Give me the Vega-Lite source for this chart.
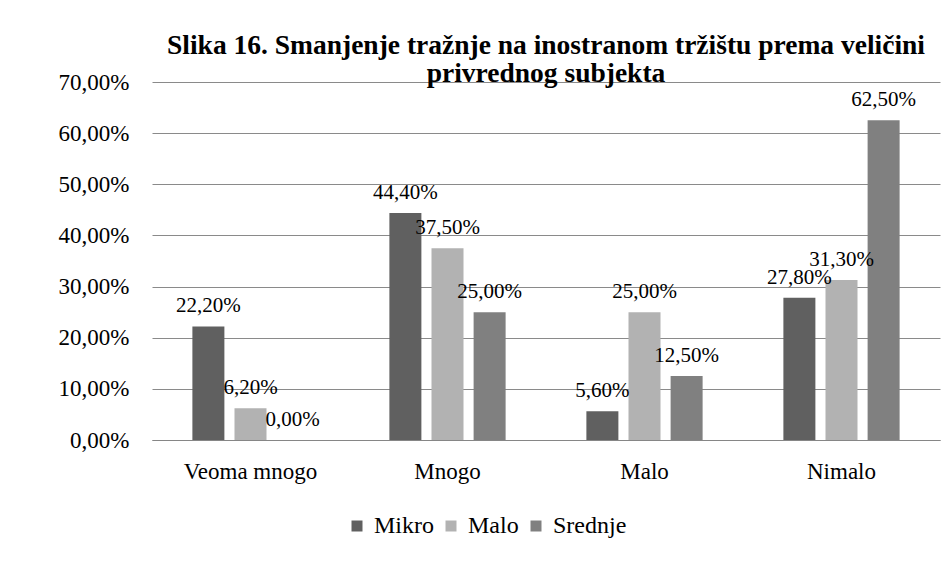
{
  "$schema": "https://vega.github.io/schema/vega-lite/v6.json",
  "width": 788,
  "height": 358,
  "autosize": {"type": "none"},
  "padding": {"left": 152, "top": 82, "right": 10, "bottom": 131},
  "background": "white",
  "title": {
    "text": ["Slika 16. Smanjenje tražnje na inostranom tržištu prema veličini", "privrednog subjekta"],
    "font": "Liberation Serif",
    "fontSize": 27.5,
    "fontWeight": "bold",
    "lineHeight": 28,
    "color": "#000000",
    "frame": "group",
    "anchor": "middle",
    "offset": -16
  },
  "data": {
    "values": [
      {"kategorija": "Veoma mnogo", "velicina": "Mikro", "vrednost": 0.222},
      {"kategorija": "Veoma mnogo", "velicina": "Malo", "vrednost": 0.062},
      {"kategorija": "Veoma mnogo", "velicina": "Srednje", "vrednost": 0.0},
      {"kategorija": "Mnogo", "velicina": "Mikro", "vrednost": 0.444},
      {"kategorija": "Mnogo", "velicina": "Malo", "vrednost": 0.375},
      {"kategorija": "Mnogo", "velicina": "Srednje", "vrednost": 0.25},
      {"kategorija": "Malo", "velicina": "Mikro", "vrednost": 0.056},
      {"kategorija": "Malo", "velicina": "Malo", "vrednost": 0.25},
      {"kategorija": "Malo", "velicina": "Srednje", "vrednost": 0.125},
      {"kategorija": "Nimalo", "velicina": "Mikro", "vrednost": 0.278},
      {"kategorija": "Nimalo", "velicina": "Malo", "vrednost": 0.313},
      {"kategorija": "Nimalo", "velicina": "Srednje", "vrednost": 0.625}
    ]
  },
  "layer": [
    {
      "mark": {"type": "bar"},
      "encoding": {
        "x": {
          "field": "kategorija",
          "type": "nominal",
          "sort": ["Veoma mnogo", "Mnogo", "Malo", "Nimalo"],
          "scale": {"paddingInner": 0.41, "paddingOuter": 0.205},
          "axis": {
            "title": null,
            "labelAngle": 0,
            "ticks": false,
            "domainColor": "#868686",
            "labelFont": "Liberation Serif",
            "labelFontSize": 23,
            "labelColor": "#000000",
            "labelPadding": 20,
            "labelOverlap": false
          }
        },
        "xOffset": {
          "field": "velicina",
          "type": "nominal",
          "sort": ["Mikro", "Malo", "Srednje"],
          "scale": {"paddingInner": 0.24, "paddingOuter": 0}
        },
        "y": {
          "field": "vrednost",
          "type": "quantitative",
          "scale": {"domain": [0, 0.7], "nice": false},
          "axis": {
            "title": null,
            "format": ".2%",
            "values": [0, 0.1, 0.2, 0.3, 0.4, 0.5, 0.6, 0.7],
            "domain": false,
            "ticks": false,
            "gridColor": "#8a8a8a",
            "labelFont": "Liberation Serif",
            "labelFontSize": 23,
            "labelColor": "#000000",
            "labelPadding": 23,
            "labelOverlap": false
          }
        },
        "color": {
          "field": "velicina",
          "type": "nominal",
          "sort": ["Mikro", "Malo", "Srednje"],
          "scale": {"domain": ["Mikro", "Malo", "Srednje"], "range": ["#606060", "#b2b2b2", "#808080"]},
          "legend": {
            "title": null,
            "orient": "none",
            "direction": "horizontal",
            "legendX": 193,
            "legendY": 432,
            "symbolType": "square",
            "symbolSize": 121,
            "symbolStrokeWidth": 0,
            "labelFont": "Liberation Serif",
            "labelFontSize": 24,
            "labelColor": "#000000",
            "labelOffset": 5,
            "columnPadding": 5
          }
        }
      }
    },
    {
      "mark": {
        "type": "text",
        "baseline": "bottom",
        "dy": -10,
        "font": "Liberation Serif",
        "fontSize": 21,
        "color": "#000000"
      },
      "encoding": {
        "x": {"field": "kategorija", "type": "nominal", "sort": ["Veoma mnogo", "Mnogo", "Malo", "Nimalo"]},
        "xOffset": {"field": "velicina", "type": "nominal", "sort": ["Mikro", "Malo", "Srednje"]},
        "y": {"field": "vrednost", "type": "quantitative"},
        "text": {"field": "vrednost", "type": "quantitative", "format": ".2%"}
      }
    }
  ],
  "config": {
    "font": "Liberation Serif",
    "locale": {
      "number": {
        "decimal": ",",
        "thousands": ".",
        "grouping": [3],
        "currency": ["", " din"]
      }
    },
    "view": {"stroke": null}
  }
}
